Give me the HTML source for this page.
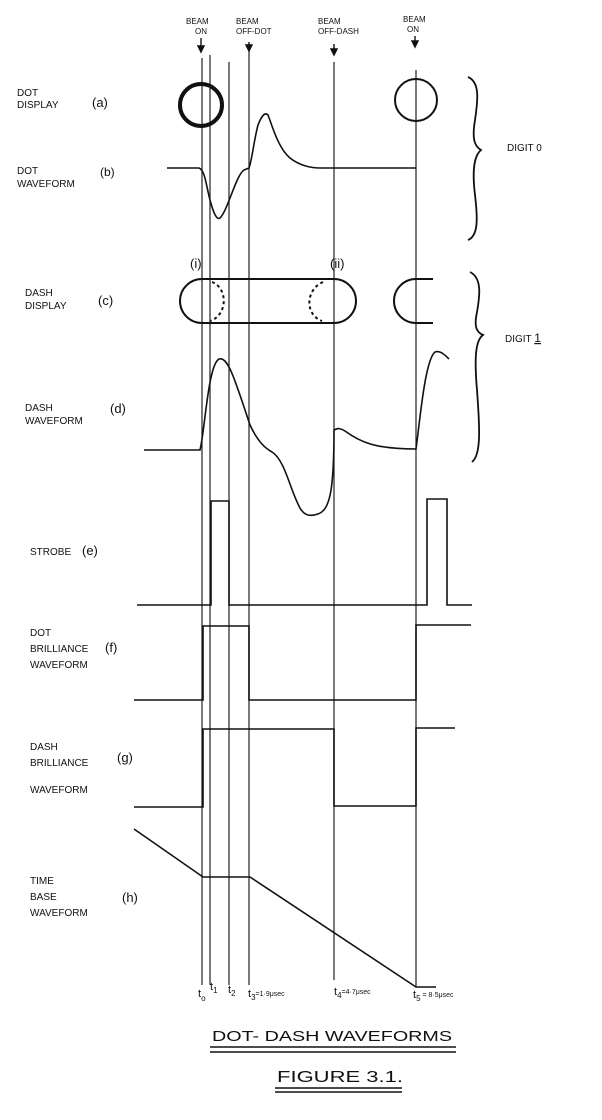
<!DOCTYPE html>
<html><head><meta charset="utf-8"><style>
html,body{margin:0;padding:0;background:#fff}
svg{display:block}
text{font-family:"Liberation Sans",sans-serif;fill:#111}
</style></head><body>
<svg width="602" height="1120" viewBox="0 0 602 1120" xmlns="http://www.w3.org/2000/svg">
<g stroke="#222" stroke-width="1.2" fill="none">
<line x1="202" y1="58" x2="202" y2="985"/>
<line x1="210" y1="55" x2="210" y2="985"/>
<line x1="229" y1="62" x2="229" y2="985"/>
<line x1="249" y1="50" x2="249" y2="985"/>
<line x1="334" y1="62" x2="334" y2="980"/>
<line x1="416" y1="70" x2="416" y2="987"/>
</g>
<g stroke="#111" stroke-width="1.4" fill="#111">
<path d="M201 38 V50 M198 46 L201 52 L204 46Z"/>
<path d="M249 42 V50 M246 45 L249 51 L252 45Z"/>
<path d="M334 44 V54 M331 49 L334 55 L337 49Z"/>
<path d="M415 36 V46 M412 41 L415 47 L418 41Z"/>
</g>
<g font-size="8">
<text x="186" y="24">BEAM</text><text x="195" y="34">ON</text>
<text x="236" y="24">BEAM</text><text x="236" y="34">OFF-DOT</text>
<text x="318" y="24">BEAM</text><text x="318" y="34">OFF-DASH</text>
<text x="403" y="22">BEAM</text><text x="407" y="32">ON</text>
</g>
<g stroke="#111" fill="none">
<circle cx="201" cy="105" r="21" stroke-width="4"/>
<circle cx="416" cy="100" r="21" stroke-width="2"/>
<path stroke-width="1.6" d="M167 168 H199 C205 170 206 185 210 200 C214 215 217 220 220 218 C228 210 236 175 244 170 L249 168 C252 160 254 140 258 125 C262 115 265 112 268 115 C272 125 278 148 290 158 C300 166 312 168 320 168 H416"/>
<path stroke-width="2" d="M202 279 H334 A22 22 0 0 1 334 323 H202 A22 22 0 0 1 202 279 Z"/>
<path stroke-width="2" stroke-dasharray="3,3" d="M212 282 C228 288 228 315 210 321"/>
<path stroke-width="2" stroke-dasharray="3,3" d="M323 282 C305 290 305 315 322 321"/>
<path stroke-width="2" d="M433 279 H416 A22 22 0 0 0 416 323 H433"/>
<path stroke-width="1.6" d="M144 450 H200 C205 430 208 365 219 359 C228 356 235 380 250 425 C258 442 265 448 272 452 C285 460 290 490 300 508 C305 517 312 516 318 514 C330 510 334 490 334 430 C338 428 340 428 345 431 C360 442 375 449 416 449 C420 420 425 360 435 352 C440 350 445 355 449 359"/>
<path stroke-width="1.6" d="M137 605 H211 V501 H229 V605 H427 V499 H447 V605 H472"/>
<path stroke-width="1.6" d="M134 700 H203 V626 H249 V700 H416 V625 H471"/>
<path stroke-width="1.6" d="M134 807 H203 V729 H334 V806 H416 V728 H455"/>
<path stroke-width="1.6" d="M134 829 L203 877 H250 L416 987 H436"/>
<path stroke-width="1.8" d="M468 77 C480 82 478 100 475 120 C472 138 474 146 481 150 C474 156 472 170 475 195 C478 220 478 236 468 240"/>
<path stroke-width="1.8" d="M470 272 C482 278 480 295 477 312 C474 326 476 332 483 335 C476 340 474 355 477 390 C480 430 481 455 472 462"/>
</g>
<g font-size="10">
<text x="17" y="96">DOT</text><text x="17" y="108">DISPLAY</text><text x="92" y="107" font-size="13">(a)</text>
<text x="17" y="174">DOT</text><text x="17" y="187">WAVEFORM</text><text x="100" y="176" font-size="12">(b)</text>
<text x="25" y="296">DASH</text><text x="25" y="309">DISPLAY</text><text x="98" y="305" font-size="13">(c)</text>
<text x="25" y="411">DASH</text><text x="25" y="424">WAVEFORM</text><text x="110" y="413" font-size="13">(d)</text>
<text x="30" y="555">STROBE</text><text x="82" y="555" font-size="13">(e)</text>
<text x="30" y="636">DOT</text><text x="30" y="652">BRILLIANCE</text><text x="30" y="668">WAVEFORM</text><text x="105" y="652" font-size="13">(f)</text>
<text x="30" y="750">DASH</text><text x="30" y="766">BRILLIANCE</text><text x="30" y="793">WAVEFORM</text><text x="117" y="762" font-size="13">(g)</text>
<text x="30" y="884">TIME</text><text x="30" y="900">BASE</text><text x="30" y="916">WAVEFORM</text><text x="122" y="902" font-size="13">(h)</text>
<text x="507" y="151">DIGIT 0</text><text x="505" y="342">DIGIT <tspan text-decoration="underline" font-size="12">1</tspan></text>
<text x="190" y="268" font-size="13">(i)</text><text x="330" y="268" font-size="13">(ii)</text>
</g>
<g font-size="11">
<text x="198" y="997">t<tspan font-size="8" dy="4">o</tspan></text>
<text x="210" y="990">t<tspan font-size="8" dy="3">1</tspan></text>
<text x="228" y="993">t<tspan font-size="8" dy="3">2</tspan></text>
<text x="248" y="997">t<tspan font-size="8" dy="3">3</tspan><tspan font-size="7" dy="-4">=1·9μsec</tspan></text>
<text x="334" y="995">t<tspan font-size="8" dy="3">4</tspan><tspan font-size="7" dy="-4">=4·7μsec</tspan></text>
<text x="413" y="998">t<tspan font-size="8" dy="3">5</tspan><tspan font-size="7" dy="-4"> = 8·5μsec</tspan></text>
</g>
<text x="212" y="1041" font-size="15" textLength="240" lengthAdjust="spacingAndGlyphs">DOT- DASH WAVEFORMS</text>
<line x1="210" y1="1047" x2="456" y2="1047" stroke="#111" stroke-width="1.5"/>
<line x1="210" y1="1052" x2="456" y2="1052" stroke="#111" stroke-width="1.5"/>
<text x="277" y="1082" font-size="16" textLength="126" lengthAdjust="spacingAndGlyphs">FIGURE 3.1.</text>
<line x1="275" y1="1088" x2="402" y2="1088" stroke="#111" stroke-width="1.5"/>
<line x1="275" y1="1092" x2="402" y2="1092" stroke="#111" stroke-width="1.5"/>
</svg>
</body></html>
